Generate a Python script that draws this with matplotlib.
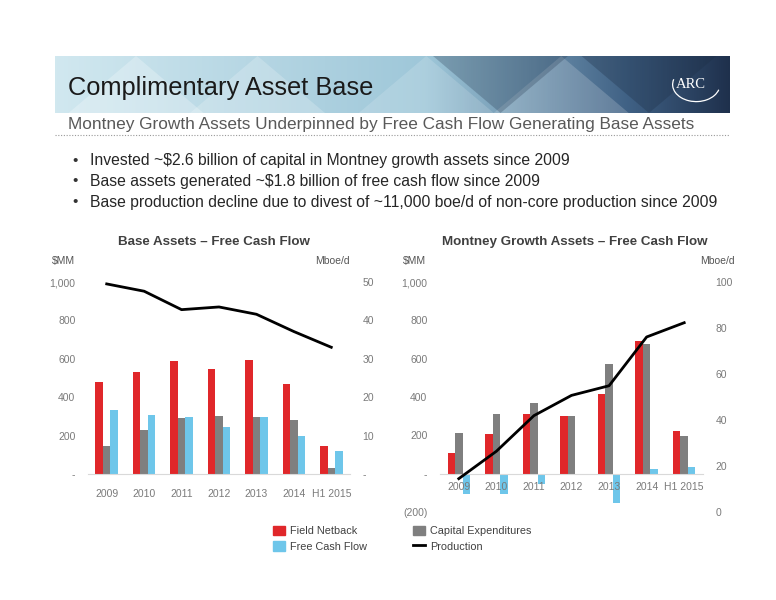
import numpy as np
import matplotlib
matplotlib.use("Agg")
import matplotlib.pyplot as plt
from matplotlib.patches import Polygon, Patch, Arc
from matplotlib.lines import Line2D

plt.rcParams['font.family'] = ['Liberation Sans', 'DejaVu Sans']

years = ['2009', '2010', '2011', '2012', '2013', '2014', 'H1 2015']

# Base assets ($MM, Mboe/d)
base_netback = [477, 529, 587, 548, 592, 471, 147]
base_capex = [147, 228, 291, 304, 298, 279, 33]
base_fcf = [332, 306, 298, 247, 298, 196, 118]
base_prod = [49.5, 47.6, 42.8, 43.5, 41.6, 37.1, 33.0]

# Montney growth assets ($MM, Mboe/d)
mont_netback = [108, 205, 311, 299, 414, 694, 224]
mont_capex = [212, 310, 367, 299, 570, 675, 197]
mont_fcf = [-104, -104, -52, -3, -153, 23, 33]
mont_prod = [14.5, 26.4, 41.9, 50.7, 54.9, 76.1, 82.3]

RED = '#e0272a'
GREY = '#7f7f7f'
BLUE = '#6ec6ea'
TICK = '#7a7a7a'
W, H = 776, 600

fig = plt.figure(figsize=(7.76, 6.0), dpi=100)


def fx(px):
    return px / W


def fy(py):
    return 1 - py / H


# banner
bax = fig.add_axes([fx(55), fy(113), fx(675), 57 / H])
grad = np.linspace(0, 1, 300)
c0 = np.array([0.82, 0.91, 0.94])
c1 = np.array([0.62, 0.78, 0.85])
c2 = np.array([0.25, 0.38, 0.52])
c3 = np.array([0.12, 0.19, 0.30])
cols = []
for g in grad:
    if g < 0.55:
        c = c0 + (c1 - c0) * g / 0.55
    elif g < 0.85:
        c = c1 + (c2 - c1) * (g - 0.55) / 0.30
    else:
        c = c2 + (c3 - c2) * (g - 0.85) / 0.15
    cols.append(c)
img = np.array([cols] * 10)
bax.imshow(img, aspect='auto', extent=[0, 1, 0, 1])
for x0, a in [(0.12, 0.25), (0.3, 0.2), (0.55, 0.15), (0.75, 0.18)]:
    bax.add_patch(Polygon([[x0 - 0.1, 0], [x0, 1], [x0 + 0.1, 0]], closed=True,
                          facecolor='white', alpha=a, edgecolor='none'))
for x0, a in [(0.66, 0.25), (0.88, 0.3)]:
    bax.add_patch(Polygon([[x0 - 0.1, 1], [x0, 0], [x0 + 0.1, 1]], closed=True,
                          facecolor='#1c2d44', alpha=a, edgecolor='none'))
bax.add_patch(Arc((0.95, 0.5), 0.07, 0.6, theta1=110, theta2=290, color='white', lw=0.9))
bax.set_xlim(0, 1)
bax.set_ylim(0, 1)
bax.axis('off')
fig.text(fx(68), fy(88), 'Complimentary Asset Base', fontsize=18.3, color='#1a1a1a',
         va='center', ha='left')
fig.text(fx(691), fy(85), 'ARC', fontsize=10.5, color='white', va='center', ha='center',
         family=['Liberation Serif', 'DejaVu Serif'])

fig.text(fx(68), fy(125), 'Montney Growth Assets Underpinned by Free Cash Flow Generating Base Assets',
         fontsize=12.4, color='#595959', va='center', ha='left')
fig.add_artist(Line2D([fx(55), fx(730)], [fy(135), fy(135)], color='#999999', lw=0.8,
                      linestyle=(0, (1, 1.5))))

bullets = ['Invested ~$2.6 billion of capital in Montney growth assets since 2009',
           'Base assets generated ~$1.8 billion of free cash flow since 2009',
           'Base production decline due to divest of ~11,000 boe/d of non-core production since 2009']
for i, b in enumerate(bullets):
    yy = fy(161 + i * 20.5)
    fig.text(fx(75), yy, '•', fontsize=11, color='#333333', va='center', ha='center')
    fig.text(fx(90), yy, b, fontsize=11.35, color='#262626', va='center', ha='left')

x = np.arange(len(years))
bw = 0.2


def style(ax, ax2, pad):
    for s in ['top', 'left', 'right']:
        ax.spines[s].set_visible(False)
        ax2.spines[s].set_visible(False)
    ax2.spines['bottom'].set_visible(False)
    ax.spines['bottom'].set_color('#d9d9d9')
    ax.spines['bottom'].set_position(('data', 0))
    ax.tick_params(length=0, colors=TICK, labelsize=7.5)
    ax.tick_params(axis='x', pad=pad)
    ax.tick_params(axis='y', pad=9)
    ax2.tick_params(length=0, colors=TICK, labelsize=7.5, pad=9)
    ax.set_xlim(-0.5, len(years) - 0.5)
    ax.set_xticks(x)
    ax.set_xticklabels(years)
    ax.set_zorder(ax2.get_zorder() - 1)
    ax.patch.set_visible(False)
    ax2.patch.set_visible(False)


# left chart
ax1 = fig.add_axes([fx(88), fy(474), fx(262), 192 / H])
ax1b = ax1.twinx()
ax1.bar(x - bw, base_netback, bw, color=RED)
ax1.bar(x, base_capex, bw, color=GREY)
ax1.bar(x + bw, base_fcf, bw, color=BLUE)
ax1b.plot(x, base_prod, color='black', lw=2)
ax1.set_ylim(0, 1000)
ax1.set_yticks([0, 200, 400, 600, 800, 1000])
ax1.set_yticklabels(['-', '200', '400', '600', '800', '1,000'])
ax1b.set_ylim(0, 50)
ax1b.set_yticks([0, 10, 20, 30, 40, 50])
ax1b.set_yticklabels(['-', '10', '20', '30', '40', '50'])
style(ax1, ax1b, 11)
fig.text(fx(214), fy(242), 'Base Assets – Free Cash Flow', fontsize=9.6, fontweight='bold',
         color='#404040', ha='center', va='center')
fig.text(fx(52), fy(261), '$MM', fontsize=7.5, color='#555555', ha='left', va='center')
fig.text(fx(350), fy(261), 'Mboe/d', fontsize=7.5, color='#555555', ha='right', va='center')

# right chart
ax2 = fig.add_axes([fx(440), fy(512), fx(263), 230 / H])
ax2b = ax2.twinx()
ax2.bar(x - bw, mont_netback, bw, color=RED)
ax2.bar(x, mont_capex, bw, color=GREY)
ax2.bar(x + bw, mont_fcf, bw, color=BLUE)
ax2b.plot(x, mont_prod, color='black', lw=2)
ax2.set_ylim(-200, 1000)
ax2.set_yticks([-200, 0, 200, 400, 600, 800, 1000])
ax2.set_yticklabels(['(200)', '-', '200', '400', '600', '800', '1,000'])
ax2b.set_ylim(0, 100)
ax2b.set_yticks([0, 20, 40, 60, 80, 100])
style(ax2, ax2b, 6)
fig.text(fx(575), fy(242), 'Montney Growth Assets – Free Cash Flow', fontsize=9.6, fontweight='bold',
         color='#404040', ha='center', va='center')
fig.text(fx(403), fy(261), '$MM', fontsize=7.5, color='#555555', ha='left', va='center')
fig.text(fx(735), fy(261), 'Mboe/d', fontsize=7.5, color='#555555', ha='right', va='center')

handles = [Patch(color=RED, label='Field Netback'),
           Patch(color=BLUE, label='Free Cash Flow'),
           Patch(color=GREY, label='Capital Expenditures'),
           Line2D([], [], color='black', lw=2, label='Production')]
fig.legend(handles=handles, ncol=2, loc='upper left', bbox_to_anchor=(fx(263), fy(516)),
           frameon=False, fontsize=7.8, handlelength=1.1, handleheight=1.0, handletextpad=0.45,
           columnspacing=4.3, labelspacing=0.45, labelcolor='#404040')

fig.savefig('out.png', dpi=100)
